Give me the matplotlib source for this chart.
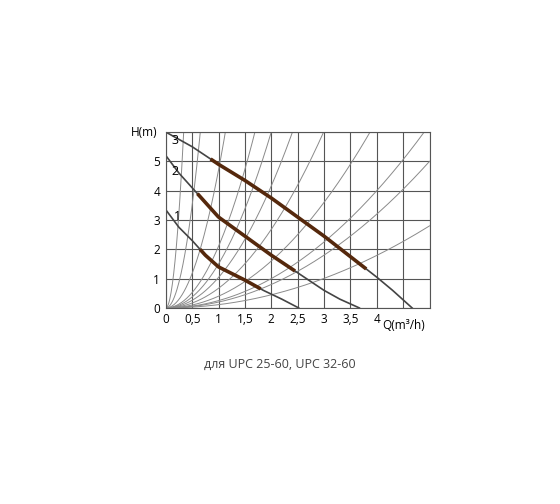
import numpy as np
import matplotlib.pyplot as plt

# pump curves (Q, H)
q3 = [0, 0.5, 1, 1.5, 2, 2.5, 3, 3.5, 4, 4.3, 4.67]
h3 = [6.0, 5.5, 4.9, 4.35, 3.75, 3.1, 2.45, 1.75, 1.05, 0.6, 0.0]
q2 = [0, 0.25, 0.5, 1, 1.5, 2, 2.5, 2.75, 3, 3.3, 3.67]
h2 = [5.2, 4.6, 4.1, 3.1, 2.45, 1.8, 1.2, 0.9, 0.6, 0.3, 0.0]
q1 = [0, 0.25, 0.5, 0.75, 1, 1.5, 1.85, 2.2, 2.52]
h1 = [3.35, 2.75, 2.3, 1.8, 1.4, 0.95, 0.6, 0.3, 0.0]
bold = {3: (0.85, 3.8), 2: (0.6, 2.45), 1: (0.65, 1.8)}

# system curves H = k*Q^2
sys_k = [52, 14, 4.7, 2.1, 1.5, 1.04, 0.67, 0.4, 0.25, 0.2, 0.112]

plt.rcParams["font.family"] = ["Open Sans", "DejaVu Sans"]
fig = plt.figure(figsize=(5.6, 5.04), dpi=100)
ax = fig.add_axes([0.296, 0.389, 0.471, 0.349])

q = np.linspace(0, 5, 400)
for k in sys_k:
    ax.plot(q, k * q**2, color="#8a8a8a", lw=0.7)

for qs, hs, n in [(q3, h3, 3), (q2, h2, 2), (q1, h1, 1)]:
    ax.plot(qs, hs, color="#444444", lw=1.2)
    a, b = bold[n]
    qq = np.linspace(a, b, 100)
    ax.plot(qq, np.interp(qq, qs, hs), color="#55280c", lw=2.6,
            solid_capstyle="butt")

ax.text(0.1, 5.6, "3", fontsize=9)
ax.text(0.1, 4.55, "2", fontsize=9)
ax.text(0.15, 3.0, "1", fontsize=9)

ax.set_xlim(0, 5)
ax.set_ylim(0, 6)
ax.set_xticks(np.arange(0, 5.01, 0.5))
ax.set_xticklabels(["0", "0,5", "1", "1,5", "2", "2,5", "3", "3,5", "4", "", ""])
ax.set_yticks(range(0, 7))
ax.set_yticklabels(["0", "1", "2", "3", "4", "5", ""])
ax.grid(True, color="#555555", lw=0.8)
for s in ax.spines.values():
    s.set_color("#555555")
ax.tick_params(length=0, labelsize=8.5, pad=4)
ax.text(4.1, -0.6, "Q(m³/h)", fontsize=8.5, va="center")
ax.text(-0.15, 6.0, "H(m)", fontsize=8.5, ha="right", va="center")

fig.text(0.5, 0.27, "для UPC 25-60, UPC 32-60", ha="center", fontsize=9,
         color="#444444")
fig.savefig("out.png")
